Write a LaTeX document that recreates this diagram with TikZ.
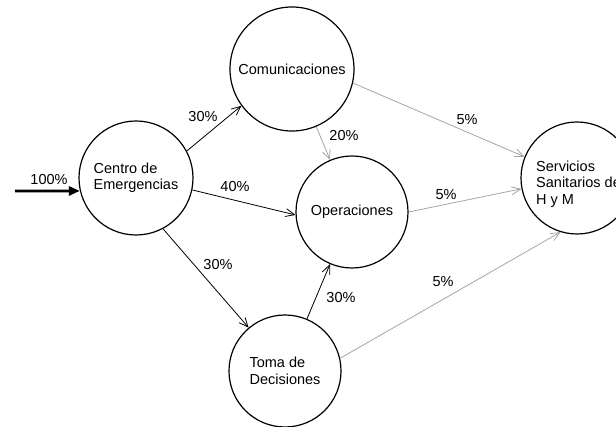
\documentclass[tikz,border=0pt]{standalone}
\usepackage{fontspec}
\setmainfont{Liberation Sans}
\usetikzlibrary{arrows.meta}
\definecolor{lightline}{RGB}{165,165,165}
\begin{document}
\begin{tikzpicture}[x=1pt,y=-1pt,
  every node/.style={font=\fontsize{14.5}{16.5}\selectfont},
  station/.style={draw=black,line width=1.2pt,circle,inner sep=0pt,align=left},
  flow/.style={draw=black,line width=0.8pt,-{Straight Barb[length=9pt,width=8pt,line width=0.8pt]}},
  minor/.style={draw=lightline,line width=0.8pt,-{Straight Barb[length=9pt,width=8pt,line width=0.8pt]}},
  pct/.style={inner sep=0pt}]
\useasboundingbox (0,0) rectangle (616,427);
\node[station,minimum size=114pt] (centro) at (136,178) {Centro de\\Emergencias};
\node[station,minimum size=124pt] (com) at (292,69) {Comunicaciones};
\node[station,minimum size=112pt] (oper) at (352,212) {Operaciones};
\node[station,minimum size=112pt] (toma) at (285,371) {Toma de\\Decisiones};
\node[station,minimum size=112pt] (serv) at (577,178) {};
\node[inner sep=0pt,align=left,anchor=west] (servtxt) at (536,184) {Servicios\\Sanitarios de\\H y M};
\coordinate (input) at (15,191);
\draw[line width=2.8pt,-{Triangle[length=11pt,width=9pt]}] (input) -- (centro.193.2);
\draw[flow] (centro.28) -- (com.216);
\draw[flow] (centro.-12) -- (oper.183);
\draw[flow] (centro.-62) -- (toma.130);
\draw[flow] (toma) -- (oper);
\draw[minor] (com) -- (oper);
\draw[minor] (com.-13) -- (serv.158);
\draw[minor] (oper.0) -- (serv.191.5);
\draw[minor] (toma.13) -- (serv.253);
\node[pct] (l100) at (49,180) {100\%};
\node[pct] (l30a) at (203,117) {30\%};
\node[pct] (l40) at (235,187) {40\%};
\node[pct] (l30b) at (218,265) {30\%};
\node[pct] (l30c) at (341,298) {30\%};
\node[pct] (l20) at (344,136) {20\%};
\node[pct] (l5a) at (467,120) {5\%};
\node[pct] (l5b) at (446,195) {5\%};
\node[pct] (l5c) at (443,282) {5\%};
\end{tikzpicture}
\end{document}
